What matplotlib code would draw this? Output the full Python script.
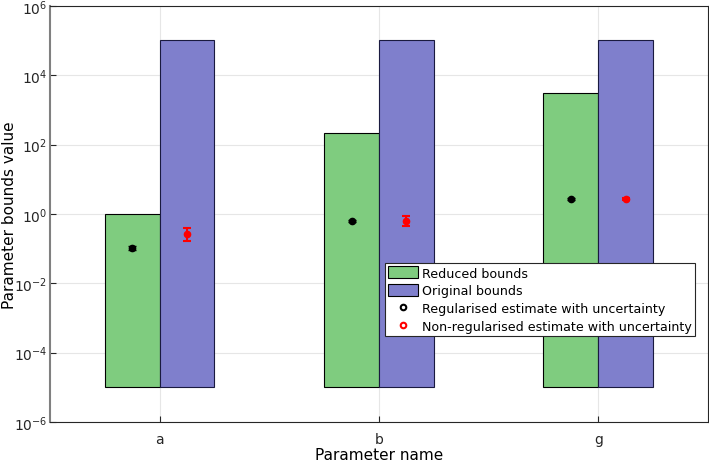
import numpy as np
import matplotlib.pyplot as plt
from matplotlib.patches import Patch
from matplotlib.lines import Line2D

# Parameter names and bounds
params = ['a', 'b', 'g']
lower_bound = [1e-5, 1e-5, 1e-5]
reduced_upper = [1.0, 210.0, 3100.0]
original_upper = [1e5, 1e5, 1e5]

# Regularised estimates (black)
reg_est = [0.105, 0.63, 2.7]
reg_err = [0.012, 0.05, 0.2]

# Non-regularised estimates (red)
nonreg_est = [0.27, 0.62, 2.65]
nonreg_lo = [0.10, 0.17, 0.2]
nonreg_hi = [0.12, 0.26, 0.2]

GREEN = '#7fcc7f'
PURPLE = '#7f7fcc'
W = 0.25

fig = plt.figure(figsize=(7.09, 4.64), dpi=100)
ax = fig.add_axes([0.0705, 0.0884, 0.928, 0.897])

x = np.arange(1, len(params) + 1)
red_h = np.array(reduced_upper) - np.array(lower_bound)
orig_h = np.array(original_upper) - np.array(lower_bound)

ax.bar(x - W / 2, red_h, W, bottom=lower_bound, color=GREEN, edgecolor='black', linewidth=0.8, zorder=2)
ax.bar(x + W / 2, orig_h, W, bottom=lower_bound, color=PURPLE, edgecolor='#1a1a40', linewidth=0.8, zorder=2)

ax.errorbar(x - W / 2, reg_est, yerr=reg_err, fmt='o', color='black', ms=4.5, capsize=3, elinewidth=1.2, zorder=3)
ax.errorbar(x + W / 2, nonreg_est, yerr=[nonreg_lo, nonreg_hi], fmt='o', color='red', ms=4.5, capsize=3, elinewidth=1.5, capthick=1.5, zorder=3)

ax.set_yscale('log')
ax.set_ylim(1e-6, 1e6)
ax.set_xlim(0.5, 3.5)
ax.set_xticks(x)
ax.set_xticklabels(params)
ax.set_yticks([10.0 ** k for k in range(-6, 7, 2)])
ax.set_yticklabels([r'$10^{%d}$' % k for k in range(-6, 7, 2)])
ax.minorticks_off()
ax.tick_params(direction='in', labelsize=10, length=4, colors='#262626')
ax.tick_params(axis='x', pad=7)
ax.tick_params(axis='y', pad=2)
ax.grid(True, color='#e6e6e6', linewidth=0.8, zorder=0)
ax.set_axisbelow(True)
for s in ax.spines.values():
    s.set_color('#262626')
    s.set_linewidth(0.8)
ax.spines['left'].set_color('#808080')
ax.spines['left'].set_linewidth(1.5)

ax.set_xlabel('Parameter name', fontsize=11, labelpad=1)
ax.set_ylabel('Parameter bounds value', fontsize=11, va='center')
ax.yaxis.set_label_coords(-0.062, 0.5)

handles = [
    Patch(facecolor=GREEN, edgecolor='black', linewidth=0.8),
    Patch(facecolor=PURPLE, edgecolor='black', linewidth=0.8),
    Line2D([], [], marker='o', linestyle='none', markerfacecolor='white', markeredgecolor='black', markeredgewidth=1.5, ms=4),
    Line2D([], [], marker='o', linestyle='none', markerfacecolor='white', markeredgecolor='red', markeredgewidth=1.5, ms=4),
]
labels = ['Reduced bounds', 'Original bounds',
          'Regularised estimate with uncertainty',
          'Non-regularised estimate with uncertainty']
leg = ax.legend(handles, labels, loc='upper left', bbox_to_anchor=(0.543, 0.431),
                bbox_transform=fig.transFigure, fontsize=9.1, fancybox=False,
                framealpha=1, edgecolor='#262626', borderpad=0.25, labelspacing=0.36,
                handlelength=2.4, handleheight=1.1, handletextpad=0.3, borderaxespad=0)
leg.get_frame().set_linewidth(0.8)

fig.savefig('out.png', dpi=100)
